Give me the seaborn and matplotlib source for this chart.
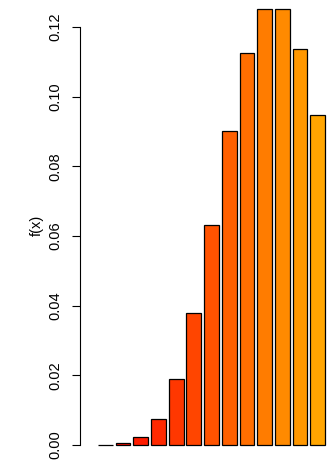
import colorsys
import matplotlib
matplotlib.use("Agg")
import matplotlib.pyplot as plt
import numpy as np
import pandas as pd
import seaborn as sns

# Poisson probabilities f(x) for x = 0..12
x_values = [0, 1, 2, 3, 4, 5, 6, 7, 8, 9, 10, 11, 12]
fx_values = [0.0000454, 0.000454, 0.00227, 0.00757, 0.0189, 0.0378, 0.0631,
             0.0901, 0.1126, 0.1251, 0.1251, 0.1137, 0.0948]
y_ticks = [0.00, 0.02, 0.04, 0.06, 0.08, 0.10, 0.12]
y_tick_labels = ["0.00", "0.02", "0.04", "0.06", "0.08", "0.10", "0.12"]

df = pd.DataFrame({"x": x_values, "fx": fx_values})

# red -> orange heat palette
n = len(x_values)
palette = [colorsys.hsv_to_rgb(h, 1.0, 1.0) for h in np.linspace(0.0, 0.108, n)]

sns.set_style("white")
plt.rcParams["font.family"] = ["Liberation Sans", "DejaVu Sans"]

W, H = 327, 462
fig = plt.figure(figsize=(W / 100, H / 100), dpi=100)
ax = fig.add_axes([80 / W, 0, (W - 80) / W, 1])

sns.barplot(data=df, x="x", y="fx", hue="x", palette=palette, legend=False,
            width=1 / 1.2, edgecolor="black", linewidth=0.9, saturation=1,
            ax=ax)

ax.set_xlim(-1.437, 12.53)
ax.set_ylim(-0.00488, 0.12775)

for s in ["top", "right", "bottom"]:
    ax.spines[s].set_visible(False)
ax.spines["left"].set_bounds(0, 0.12)
ax.spines["left"].set_linewidth(0.8)
ax.spines["left"].set_color("black")

ax.set_xticks([])
ax.set_xlabel("")
ax.set_ylabel("")
ax.set_yticks(y_ticks)
ax.set_yticklabels(y_tick_labels, rotation=90, va="center", fontsize=10.5)
ax.tick_params(axis="y", left=True, length=6, width=0.8, color="black",
               pad=7, labelcolor="black")

fig.text(37 / W, 1 - 225 / H, "f(x)", rotation=90, ha="center", va="center",
         fontsize=10.5, color="black")

fig.savefig("out.png", dpi=100)
